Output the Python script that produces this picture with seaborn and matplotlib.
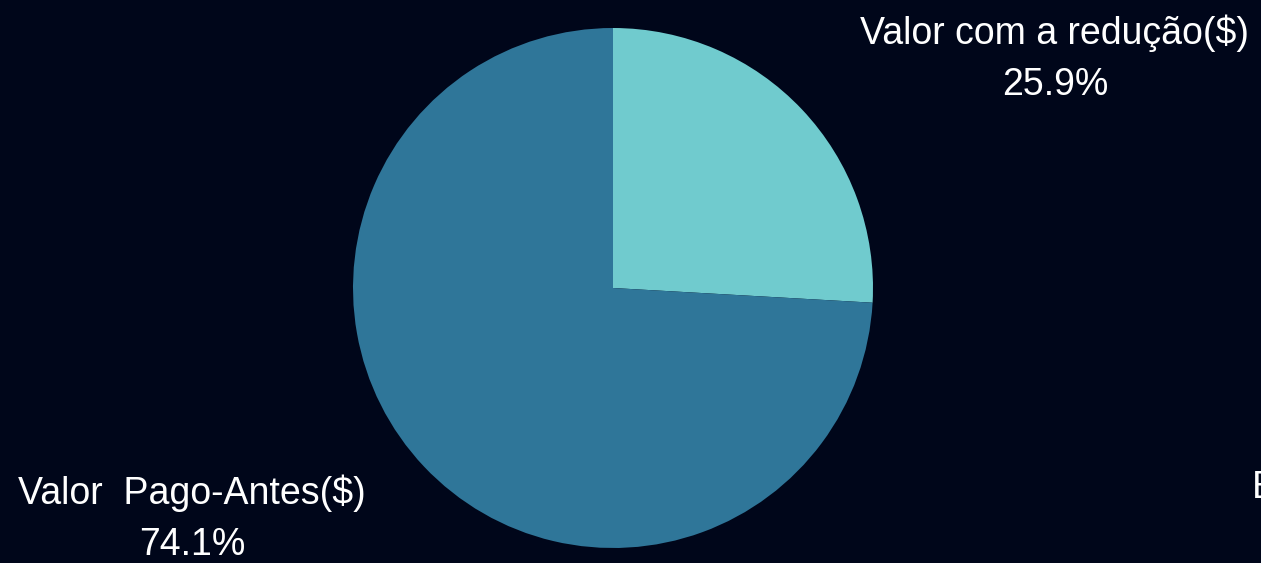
import matplotlib.pyplot as plt
import seaborn as sns

# Dados do gráfico
labels = ["Valor com a redução($)", "Valor  Pago-Antes($)"]
percentuais = [25.9, 74.1]
cores = ["#70cbce", "#2f7699"]
fundo = "#00061a"

sns.set_theme(style="dark")
plt.rcParams['font.family'] = ['Liberation Sans', 'DejaVu Sans']

fig = plt.figure(figsize=(12.61, 5.63), dpi=100, facecolor=fundo)
# eixo posicionado para que a pizza fique centrada em (613, 288) com raio 260px
ax = fig.add_axes([(613 - 260) / 1261, (563 - 288 - 260) / 563, 520 / 1261, 520 / 563])
ax.set_facecolor(fundo)
ax.pie(percentuais, colors=cores, startangle=90, counterclock=False,
       wedgeprops=dict(linewidth=0))
ax.set_xlim(-1, 1)
ax.set_ylim(-1, 1)
ax.set_aspect('equal')
ax.axis('off')

# rótulos externos (posição em pixels da figura)
pos_rotulos = [(1055, 59), (192, 519)]
for nome, pct, (px, py) in zip(labels, percentuais, pos_rotulos):
    fig.text(px / 1261, 1 - py / 563, f"{nome}\n{pct:.1f}%", ha='center', va='center',
             multialignment='center', color='white', fontsize=27, linespacing=1.55)

# rótulo cortado na borda direita (como na referência)
fig.text(1252 / 1261, 1 - 488 / 563, "E", ha='left', va='center', color='white', fontsize=27)

fig.savefig("out.png", dpi=100, facecolor=fundo)
